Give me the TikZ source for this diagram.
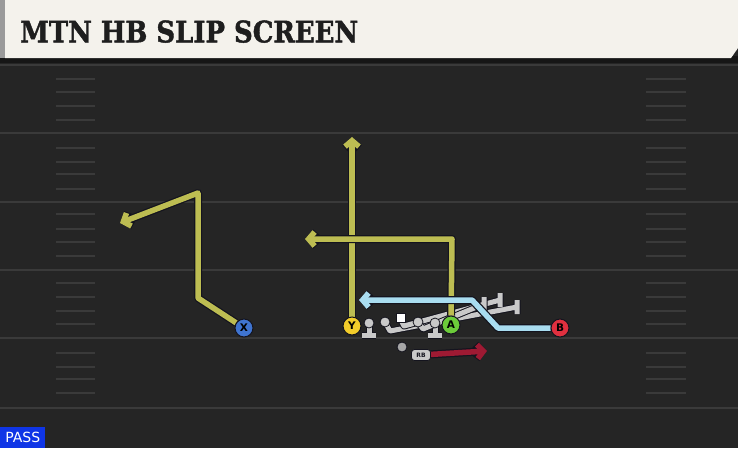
\documentclass[tikz,border=0pt]{standalone}
\usepackage{fontspec}
\usetikzlibrary{arrows.meta}
\newfontfamily\titlefont{DejaVu Serif}[BoldFeatures={FakeBold=1.5}]
\newfontfamily\labfont{DejaVu Sans}
\definecolor{fieldbg}{HTML}{252525}
\definecolor{yardc}{HTML}{3A3A3A}
\definecolor{hashc}{HTML}{3A3A3A}
\definecolor{hdr}{HTML}{F4F2EC}
\definecolor{hdrdark}{HTML}{161616}
\definecolor{hdrgray}{HTML}{9A9A9A}
\definecolor{titlec}{HTML}{1E1E1E}
\definecolor{yel}{HTML}{BDBD52}
\definecolor{lblue}{HTML}{A9DDF0}
\definecolor{dred}{HTML}{9E1A33}
\definecolor{blk}{HTML}{C9C9C9}
\definecolor{outl}{HTML}{14141E}
\definecolor{pblue}{HTML}{3F74D0}
\definecolor{pyel}{HTML}{F2CC2A}
\definecolor{pgreen}{HTML}{6CCB3A}
\definecolor{pred}{HTML}{E0303F}
\definecolor{passblue}{HTML}{0F35E6}
\pgfdeclarelayer{field}
\pgfdeclarelayer{routes}
\pgfsetlayers{field,routes,main}
\newcommand\myroute[2]{\draw[routeout] #2; \draw[#1] #2;}
\newcommand\myblock[1]{\draw[blockout] #1; \draw[blockin] #1;}
\begin{document}
\begin{tikzpicture}[x=1pt,y=-1pt,
  yard/.style={draw=yardc,line width=2pt},
  hash/.style={draw=hashc,line width=1.2pt},
  player/.style={circle,minimum size=18pt,inner sep=0pt,draw=outl,line width=1pt,
    font=\labfont\bfseries\fontsize{10.5}{10.5}\selectfont,text=black},
  routeout/.style={draw=outl,line width=8pt,line join=round,
    -{Straight Barb[length=6pt,width=14pt,line width=8pt]}},
  routein/.style={line width=5.5pt,line join=round,
    -{Straight Barb[length=6pt,width=14pt,line width=5.5pt]}},
  yroute/.style={routein,draw=yel},
  broute/.style={routein,draw=lblue},
  rroute/.style={routein,draw=dred},
  blockout/.style={draw=outl,line width=7pt,line join=round},
  blockin/.style={draw=blk,line width=5pt,line join=round},
  lineman/.style={circle,minimum size=10pt,inner sep=0pt,fill=blk,draw=outl,line width=0.8pt},
]
\useasboundingbox (0,0) rectangle (738,448);
\begin{pgfonlayer}{field}
\fill[fieldbg] (0,0) rectangle (738,448);
\foreach \y in {65,133,202,270,338,408} \draw[yard] (0,\y) -- (738,\y);
\foreach \y in {79,92,106,120,148,162,174,189,214,229,242,256,283,297,311,324,353,367,379,393} {
  \draw[hash] (56,\y) -- (95,\y);
  \draw[hash] (646,\y) -- (686,\y);
}
\fill[hdrdark] (0,56) rectangle (738,63);
\fill[hdrgray] (0,0) rectangle (6,58);
\fill[hdr] (5,0) -- (738,0) -- (738,48) -- (731,58) -- (5,58) -- cycle;
\end{pgfonlayer}
\node[anchor=south west,inner sep=0pt,text=titlec] (title) at (20,43)
  {\resizebox{338pt}{22pt}{\titlefont\bfseries MTN HB SLIP SCREEN}};
\node[fill=passblue,text=white,anchor=south west,minimum width=45pt,minimum height=21pt,
  inner sep=0pt,font=\labfont\fontsize{14}{14}\selectfont] (pass) at (0,448) {PASS};
% players
\node[player,fill=pblue] (X) at (244,328) {X};
\node[player,fill=pyel] (Y) at (352,326) {Y};
\node[player,fill=pgreen] (A) at (451,325) {A};
\node[player,fill=pred] (B) at (560,328) {B};
\node[circle,minimum size=10pt,inner sep=0pt,fill=gray!70,draw=outl,line width=0.8pt] (QB) at (402,347) {};
\node[rounded corners=3pt,fill=blk,draw=outl,line width=0.8pt,minimum width=19pt,minimum height=11pt,
  inner sep=0pt,font=\labfont\bfseries\fontsize{6}{6}\selectfont,text=outl] (RB) at (421,355) {RB};
% route coordinates
\coordinate (x1) at (198,298);
\coordinate (x2) at (198,193);
\coordinate (x3) at (120,223);
\coordinate (y1) at (352,137);
\coordinate (a1) at (452,239);
\coordinate (a2) at (305,239);
\coordinate (b1) at (498,328);
\coordinate (b2) at (472,300);
\coordinate (b3) at (359,300);
\coordinate (r1) at (487,351);
% linemen
\coordinate (lt1) at (369,323); \coordinate (lt2) at (369,335);
\coordinate (lt3) at (362,335); \coordinate (lt4) at (376,335);
\coordinate (rt1) at (435,323); \coordinate (rt2) at (435,335);
\coordinate (rt3) at (428,335); \coordinate (rt4) at (442,335);
\coordinate (g1) at (390,331); \coordinate (g2) at (517,307);
\coordinate (g3) at (517,300); \coordinate (g4) at (517,314);
\coordinate (c1) at (404,326); \coordinate (c2) at (500,300);
\coordinate (c3) at (500,293); \coordinate (c4) at (500,307);
\coordinate (h1) at (423,329); \coordinate (h2) at (484,304);
\coordinate (h3) at (484,297); \coordinate (h4) at (484,311);
\begin{pgfonlayer}{routes}
\myblock{(lt1) -- (lt2) (lt3) -- (lt4)}
\myblock{(rt1) -- (rt2) (rt3) -- (rt4)}
\myblock{(385,322) -- (g1) -- (g2) (g3) -- (g4)}
\myblock{(401,320) -- (c1) -- (c2) (c3) -- (c4)}
\myblock{(418,322) -- (h1) -- (h2) (h3) -- (h4)}
\myroute{yroute}{(Y) -- (y1)}
\myroute{yroute}{(A) -- (a1) -- (a2)}
\myroute{yroute}{(X) -- (x1) -- (x2) -- (x3)}
\myroute{broute}{(B) -- (b1) -- (b2) -- (b3)}
\myroute{rroute}{(RB) -- (r1)}
\end{pgfonlayer}
\node[lineman] (LT) at (369,323) {};
\node[lineman] (RT) at (435,323) {};
\node[lineman] (LG) at (385,322) {};
\node[lineman] (RG) at (418,322) {};
\node[fill=white,draw=outl,line width=0.8pt,minimum size=9pt,inner sep=0pt] (C) at (401,318) {};
\end{tikzpicture}
\end{document}
